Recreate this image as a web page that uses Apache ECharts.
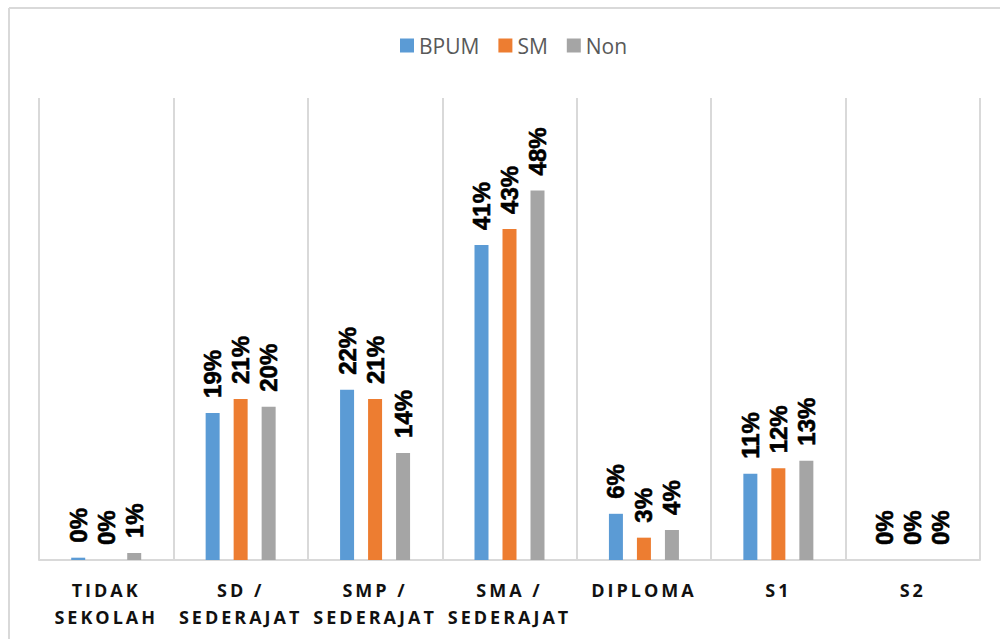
<!DOCTYPE html>
<html>
<head>
<meta charset="utf-8">
<title>Tingkat Pendidikan</title>
<script src="https://cdn.jsdelivr.net/npm/echarts@6/dist/echarts.min.js"></script>
<style>
  html, body { margin: 0; padding: 0; background: #fff; }
  #chart { width: 1000px; height: 639px; }
  /* spaced-out capitals for the category names */
  #chart text[style*="DejaVu"] { letter-spacing: 3px; }
</style>
</head>
<body>
<div id="chart"></div>
<script>
// Education level categories
const categories = ['TIDAK\nSEKOLAH', 'SD /\nSEDERAJAT', 'SMP /\nSEDERAJAT', 'SMA /\nSEDERAJAT', 'DIPLOMA', 'S1', 'S2'];
// Share of respondents per group (%)
const seriesNames = ['BPUM', 'SM', 'Non'];
const bpum = [0.3, 19.1, 22.1, 40.9, 6.0, 11.2, 0];
const sm   = [0,   20.9, 20.9, 43.0, 2.9, 11.9, 0];
const non  = [0.9, 19.9, 13.9, 48.0, 3.9, 12.9, 0];
const colors = ['#5B9BD5', '#ED7D31', '#A5A5A5'];

const chart = echarts.init(document.getElementById('chart'), null, { renderer: 'svg' });

function barSeries(name, data, color) {
  return {
    name: name,
    type: 'bar',
    data: data,
    barWidth: 14,
    barGap: '100%',
    itemStyle: { color: color },
    label: {
      show: true,
      position: 'top',
      rotate: 90,
      align: 'left',
      verticalAlign: 'middle',
      distance: 15,
      formatter: p => Math.round(p.value) + '%',
      fontFamily: 'Arial',
      fontWeight: 'bold',
      fontSize: 24,
      color: '#000',
      textBorderColor: '#000',
      textBorderWidth: 0.6
    }
  };
}

chart.setOption({
  animation: false,
  backgroundColor: '#fff',
  legend: {
    left: 395,
    top: 30,
    itemWidth: 14,
    itemHeight: 14,
    itemGap: 19,
    icon: 'rect',
    data: seriesNames,
    textStyle: { fontFamily: 'Open Sans', fontSize: 21, color: '#595959', lineHeight: 21 }
  },
  grid: { left: 39, right: 20, top: 98, bottom: 79 },
  xAxis: {
    type: 'category',
    data: categories,
    axisLine: { lineStyle: { color: '#d9d9d9', width: 2 } },
    axisTick: { show: false },
    splitLine: { show: true, lineStyle: { color: '#d9d9d9', width: 2 } },
    axisLabel: {
      interval: 0,
      margin: 16,
      fontFamily: 'Open Sans, DejaVu Sans',
      fontWeight: 'bold',
      fontSize: 18,
      lineHeight: 27,
      color: '#111'
    }
  },
  yAxis: {
    type: 'value',
    min: 0,
    max: 60,
    show: false,
    splitLine: { show: false }
  },
  graphic: [
    { type: 'line', shape: { x1: 9, y1: 8, x2: 1000, y2: 8 }, style: { stroke: '#d9d9d9', lineWidth: 2 } },
    { type: 'line', shape: { x1: 9, y1: 8, x2: 9, y2: 639 }, style: { stroke: '#d9d9d9', lineWidth: 2 } }
  ],
  series: [
    barSeries(seriesNames[0], bpum, colors[0]),
    barSeries(seriesNames[1], sm, colors[1]),
    barSeries(seriesNames[2], non, colors[2])
  ]
});
</script>
</body>
</html>
